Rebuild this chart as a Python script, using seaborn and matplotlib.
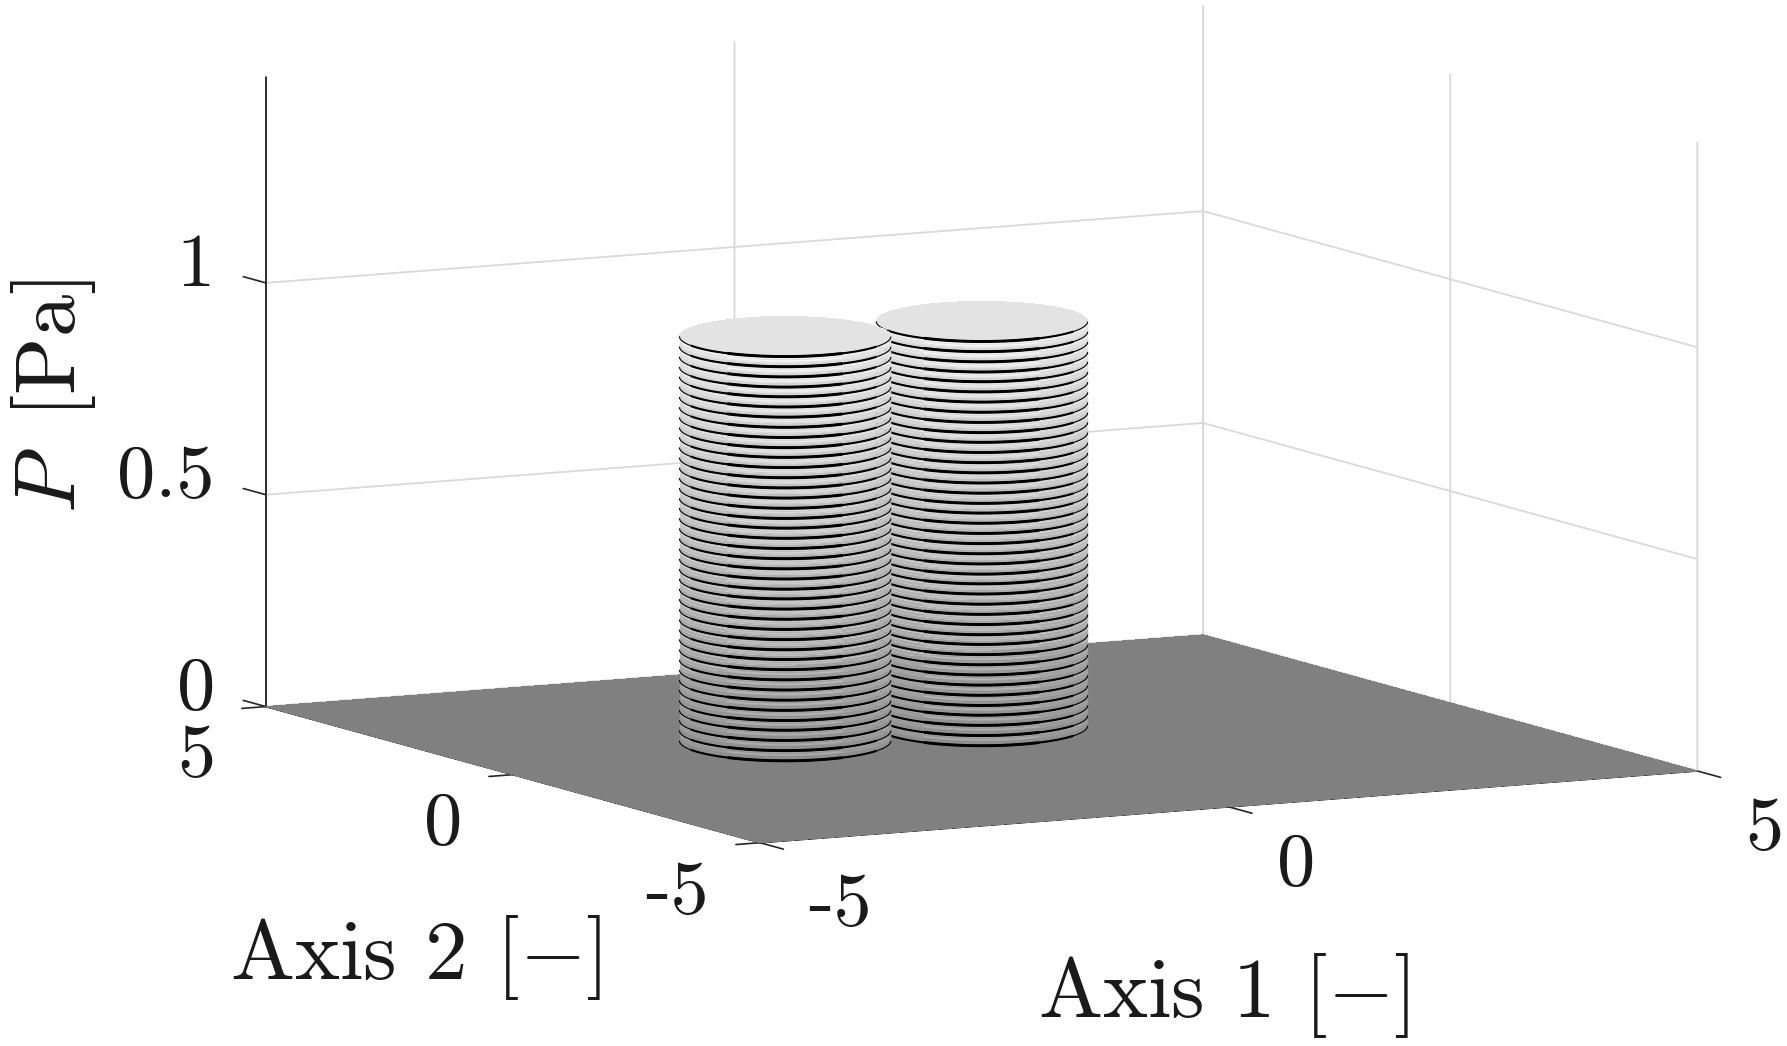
import numpy as np
import seaborn as sns
import matplotlib
matplotlib.use("Agg")
import matplotlib.pyplot as plt
from mpl_toolkits.mplot3d import proj3d

# values
axis1_ticks = [-5, 0, 5]
axis2_ticks = [-5, 0, 5]
p_ticks = [0, 0.5, 1]
axis1_labels = ["-5", "0", "5"]
axis2_labels = ["-5", "0", "5"]
p_labels = ["0", "0.5", "1"]
p_max = 1.485

# cylinder centres on the (axis 1, axis 2) floor, back one first
center_axis1 = [0.40, -1.70]
center_axis2 = [0.75, 0.75]
outline_u = [0.88, -0.47]
outline_v = [0.61, 1.15]
ring_levels = [0.000, 0.024, 0.048, 0.072, 0.095, 0.119, 0.143, 0.167, 0.191, 0.215,
               0.239, 0.262, 0.286, 0.310, 0.334, 0.358, 0.382, 0.405, 0.429, 0.453,
               0.477, 0.501, 0.525, 0.549, 0.572, 0.596, 0.620, 0.644, 0.668, 0.692,
               0.716, 0.739, 0.763, 0.787, 0.811, 0.835, 0.859, 0.882, 0.906, 0.930,
               0.954]

sns.set_theme(style="white")
plt.rcParams["font.family"] = ["cmr10", "DejaVu Sans"]
plt.rcParams["mathtext.fontset"] = "cm"
plt.rcParams["axes.unicode_minus"] = False
plt.rcParams["axes.formatter.use_mathtext"] = True
plt.rcParams["text.color"] = "#1a1a1a"
gray = sns.color_palette("gray", as_cmap=True)

W, H = 1787, 1046
fig = plt.figure(figsize=(W / 100, H / 100), dpi=100, facecolor="white")
ax = fig.add_subplot(projection="3d", proj_type="ortho", computed_zorder=False)
ax.view_init(elev=8.35, azim=-117.8)
ax.set_box_aspect((1058, 1058, 635))
ax.set_xlim(-5, 5, view_margin=0)
ax.set_ylim(-5, 5, view_margin=0)
ax.set_zlim(0, p_max, view_margin=0)

ax.set_xticks(axis1_ticks)
ax.set_yticks(axis2_ticks)
ax.set_zticks(p_ticks)
ax.zaxis._get_tickdir = lambda pos: 1  # P ticks point along axis 2 here

for axis, out in ((ax.xaxis, -0.59), (ax.yaxis, -0.32), (ax.zaxis, 0.57)):
    axis.set_tick_params(label1On=False)
    axis.set_pane_color((1, 1, 1, 1))
    axis.pane.set_edgecolor((1, 1, 1, 0))
    axis._axinfo["grid"].update(color="#d9d9d9", linewidth=1.3)
    axis._axinfo["tick"].update(inward_factor=0, outward_factor=out, linewidth={True: 1.2, False: 0.5})
    axis._axinfo["tick"]["color"] = "#111111"
    axis.line.set_linewidth(1.2)
    axis.line.set_color("#111111")

# floor
fx, fy = np.meshgrid(axis1_ticks, axis2_ticks)
ax.plot_surface(fx, fy, np.zeros_like(fx, dtype=float), color=gray(0.5), shade=False,
                linewidth=0, antialiased=False, zorder=1)


def outline(cx, cy, t):
    x = cx + outline_u[0] * np.cos(t) + outline_v[0] * np.sin(t)
    y = cy + outline_u[1] * np.cos(t) + outline_v[1] * np.sin(t)
    return x, y


top = ring_levels[-1]
zo = 2
for cx, cy in zip(center_axis1, center_axis2):
    t = np.linspace(np.pi, 2 * np.pi, 61)
    sx, sy = outline(cx, cy, t)
    mid = (t > np.pi * 1.15) & (t < np.pi * 1.85)
    core = (t > np.pi * 1.3) & (t < np.pi * 1.7)
    # bands between the black rings, lighter just below each ring
    for lo, hi in zip(ring_levels[:-1], ring_levels[1:]):
        base = 0.56 + 0.3 * lo / top
        for a, b, extra in ((lo, lo + (hi - lo) * 0.45, 0.0),
                            (lo + (hi - lo) * 0.45, lo + (hi - lo) * 0.8, 0.04),
                            (lo + (hi - lo) * 0.8, hi, 0.08)):
            ax.plot_surface(np.vstack([sx, sx]), np.vstack([sy, sy]),
                            np.vstack([np.full_like(sx, a), np.full_like(sx, b)]),
                            color=gray(min(base + extra, 1.0)), shade=False, rstride=1, cstride=60,
                            linewidth=0, antialiased=False, zorder=zo)
        # the pale streak in the middle of each band
        ax.plot(sx[core], sy[core], hi - (hi - lo) * 0.42, color=gray(min(base + 0.11, 1.0)),
                lw=1.1, zorder=zo, solid_capstyle="butt")
    # lid
    tl = np.linspace(0, 2 * np.pi, 121)
    lx, ly = outline(cx, cy, tl)
    ax.plot_surface(np.vstack([np.full_like(lx, cx), lx]), np.vstack([np.full_like(ly, cy), ly]),
                    np.full((2, len(lx)), top), color=gray(0.89), shade=False, rstride=1, cstride=1,
                    linewidth=0, antialiased=False, zorder=zo)
    # rings, thin at the ends and heavy in the middle
    for lev in ring_levels:
        ax.plot(sx, sy, lev, color="black", lw=0.8, zorder=zo + 1, solid_capstyle="butt")
        ax.plot(sx[mid], sy[mid], lev, color="black", lw=1.5, zorder=zo + 1, solid_capstyle="butt")
        ax.plot(sx[core], sy[core], lev, color="black", lw=2.1, zorder=zo + 1, solid_capstyle="butt")
    zo += 2

# fit the box onto the picture
front_ref = np.array([760.0, H - 842.7])
right_ref = np.array([1697.3, H - 771.0])


def to_px(x, y, z):
    xs, ys, _ = proj3d.proj_transform(x, y, z, ax.get_proj())
    return np.array(ax.transData.transform((xs, ys)))


fig.canvas.draw()
span = np.linalg.norm(to_px(5, -5, 0) - to_px(-5, -5, 0))
side = ax.get_position().height * H * np.linalg.norm(right_ref - front_ref) / span
ax.set_position([0.5 - side / W / 2, 0.5 - side / H / 2, side / W, side / H])
fig.canvas.draw()
shift = front_ref - to_px(-5, -5, 0)
pos = ax.get_position(original=True)
ax.set_position([pos.x0 + shift[0] / W, pos.y0 + shift[1] / H, pos.width, pos.height])


def tick_text(x, y, z, s, ha="center"):
    xs, ys, _ = proj3d.proj_transform(x, y, z, ax.get_proj())
    ax.text2D(xs, ys, s, transform=ax.transData, fontsize=55, ha=ha, va="center")


for tick, lab in zip(axis1_ticks, axis1_labels):
    shift_y = 1.62 if lab == "-5" else 1.36
    tick_text(tick, -5 - shift_y, -0.097, lab)
for tick, lab in zip(axis2_ticks, axis2_labels):
    shift_x = 0.886 if lab == "-5" else 0.74
    tick_text(-5 - shift_x, tick, -0.107, lab)
for tick, lab in zip(p_ticks, p_labels):
    tick_text(-5 - 0.544, 5, tick + 0.047, lab, ha="right")

fig.text(1224 / W, 1 - 995 / H, "Axis 1 [$-$]", fontsize=61.5, ha="center", va="center")
fig.text(416 / W, 1 - 958 / H, "Axis 2 [$-$]", fontsize=61.5, ha="center", va="center")
fig.text(53 / W, 1 - 396 / H, r"$P\/$ [Pa]", fontsize=61, rotation=90, ha="center", va="center")

fig.savefig("out.png", dpi=100)
